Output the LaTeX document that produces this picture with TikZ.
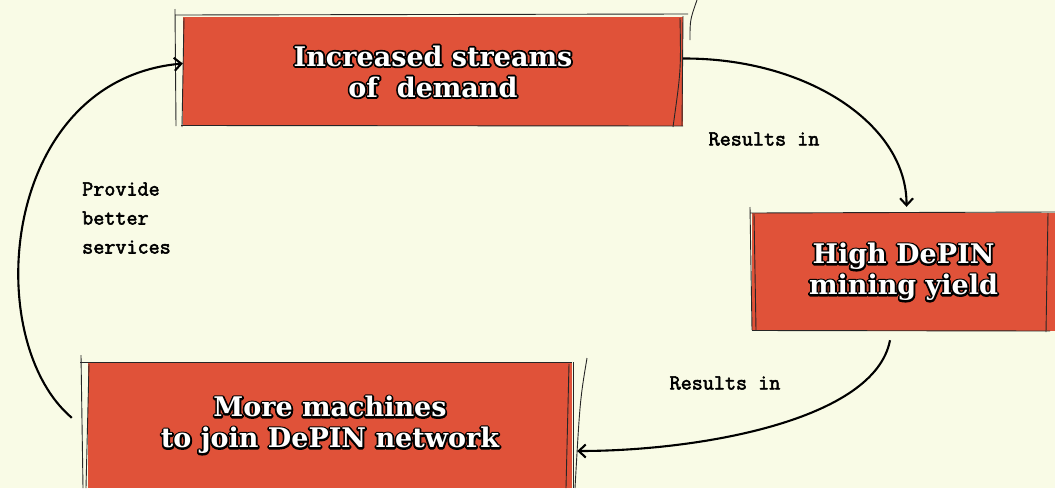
\documentclass[tikz,border=0pt]{standalone}
\usepackage{fontspec}
\usetikzlibrary{arrows.meta,calc}
\newfontfamily\boxfont{DejaVu Serif}
\definecolor{bg}{HTML}{F9FBE6}
\definecolor{boxred}{HTML}{E05239}
\newcommand\outl[1]{\rlap{\textcolor{black}{\special{pdf:literal direct 1 j 1 J 3.6 w 0 0 0 RG 1 Tr}#1\special{pdf:literal direct 0 Tr}}}\textcolor{white}{#1}}
\newcommand\embold[1]{\special{pdf:literal direct 1 j 0.55 w 0 0 0 RG 2 Tr}#1\special{pdf:literal direct 0 Tr}}
\begin{document}
\begin{tikzpicture}[x=1pt,y=-1pt,
  box/.style={fill=boxred, inner sep=0pt, font=\boxfont\bfseries\fontsize{27}{31}\selectfont, align=center},
  sk/.style={draw=black!85, line width=0.9pt},
  conn/.style={line width=2.1pt, -{Straight Barb[length=7pt,width=13pt]}},
  lbl/.style={font=\ttfamily\fontsize{21.5}{29}\selectfont, inner sep=0pt, align=left}]
\fill[bg] (0,0) rectangle (1055,488);
\useasboundingbox (0,0) rectangle (1055,488);
% boxes
\node[box, minimum width=500pt, minimum height=109pt] (b1) at (433,71.5) {\outl{Increased streams}\\\outl{of\ \ demand}};
\node[box, minimum width=303pt, minimum height=118pt] (b2) at (903.5,272) {\outl{High DePIN}\\\outl{mining yield}};
\node[box, minimum width=484pt, minimum height=126pt] (b3) at (330,425) {\outl{More machines}\\\outl{to join DePIN network}};
% sketchy strokes b1
\draw[sk] (175,15) -- (688,14);
\draw[sk] (175,9) -- (176,126);
\draw[sk] (184,18) -- (182,127);
\draw[sk] (181,125.5) -- (683,126);
\draw[sk] (680,18) .. controls (681,70) .. (673,127);
\draw[sk] (683,16) -- (682,126);
\draw[sk] (697,0) .. controls (690,20) .. (690,40);
% b2
\draw[sk] (750,213) -- (1055,212);
\draw[sk] (750,207) -- (752,330);
\draw[sk] (754,214) -- (756,330);
\draw[sk] (752,330.5) -- (1050,331);
\draw[sk] (1048,213) -- (1046,332);
% b3
\draw[sk] (80,362) -- (572,362);
\draw[sk] (81,355) -- (83,488);
\draw[sk] (89,364) -- (86,488);
\draw[sk] (569,364) -- (566,488);
\draw[sk] (573,362) -- (573,488);
\draw[sk] (587,358) .. controls (580,400) .. (575,488);
% connectors
\draw[conn] ([yshift=13pt]b1.east) .. controls (808,58) and (907,125) .. ([xshift=3pt,yshift=6pt]b2.north);
\draw[conn] ([xshift=-13.5pt,yshift=-9pt]b2.south) .. controls (875,420) and (700,451) .. ([xshift=5pt,yshift=-26pt]b3.east);
\draw[conn] ([xshift=-16pt,yshift=-56pt]b3.north west) .. controls (-20,340) and (0,80) .. ([yshift=8pt]b1.west);
% labels
\node[lbl] (l1) at (764,139) {\embold{Results in}};
\node[lbl] (l2) at (725,383) {\embold{Results in}};
\node[lbl, anchor=west] (l3) at (82,218) {\embold{Provide}\\\embold{better}\\\embold{services}};
\end{tikzpicture}
\end{document}
